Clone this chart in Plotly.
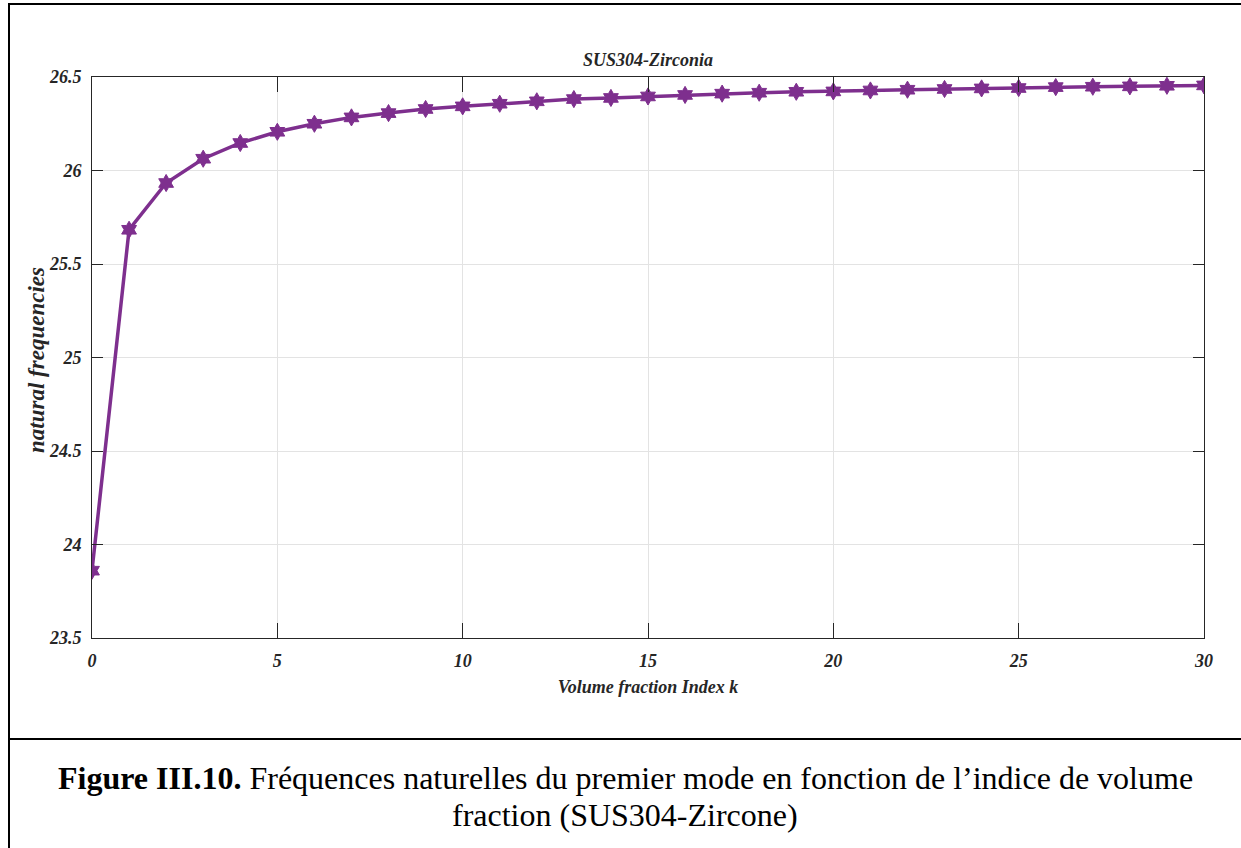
import plotly.graph_objects as go

# ---- data ----
k_index = list(range(0, 31))
natural_freq = [23.86, 25.683, 25.933, 26.063, 26.147, 26.207, 26.25, 26.284, 26.307,
                26.329, 26.343, 26.357, 26.370, 26.382, 26.388, 26.396, 26.404, 26.411,
                26.416, 26.421, 26.423, 26.428, 26.432, 26.436, 26.439, 26.441, 26.446,
                26.448, 26.450, 26.453, 26.455]
x_ticks = [0, 5, 10, 15, 20, 25, 30]
x_ticktext = ["0", "5", "10", "15", "20", "25", "30"]
y_ticks = [23.5, 24, 24.5, 25, 25.5, 26, 26.5]
y_ticktext = ["23.5", "24", "24.5", "25", "25.5", "26", "26.5"]

W, H = 1241, 848
L, R, T, B = 92, 1204, 77, 638  # plot area in pixels


def px(xp):
    return (xp - L) / (R - L)


def py(yp):
    return (B - yp) / (B - T)


SERIF = "Liberation Serif"
PURPLE = "#7E2F8E"
AX = "#262626"

fig = go.Figure()
fig.add_trace(go.Scatter(
    x=k_index, y=natural_freq, mode="lines+markers",
    line=dict(color=PURPLE, width=3.5),
    marker=dict(symbol="hexagram", size=13, color=PURPLE,
                line=dict(color=PURPLE, width=1)),
    showlegend=False,
))

axis_common = dict(
    showline=True, linecolor=AX, linewidth=1, mirror="allticks",
    ticks="inside", tickcolor=AX, showgrid=True, gridcolor="#e3e3e3",
    gridwidth=1, zeroline=False,
)

fig.update_xaxes(
    range=[0, 30], tickmode="array", tickvals=x_ticks,
    ticktext=["<b><i>" + t + "</i></b>" for t in x_ticktext], ticklen=15,
    ticklabelstandoff=6,
    tickfont=dict(family=SERIF, size=18, color=AX),
    title=dict(text="<b><i>Volume fraction Index k</i></b>",
               font=dict(family=SERIF, size=18, color=AX), standoff=10),
    **axis_common,
)
fig.update_yaxes(
    range=[23.5, 26.5], tickmode="array", tickvals=y_ticks,
    ticktext=["<b><i>" + t + "</i></b>" for t in y_ticktext], ticklen=11,
    ticklabelstandoff=6,
    tickfont=dict(family=SERIF, size=18, color=AX),
    **axis_common,
)

fig.update_layout(
    width=W, height=H,
    margin=dict(l=L, r=W - R, t=T, b=H - B, pad=0),
    paper_bgcolor="white", plot_bgcolor="white",
    title=dict(text="<b><i>SUS304-Zirconia</i></b>", x=px(648), xref="paper",
               xanchor="center", y=1 - 60 / H, yref="container", yanchor="middle",
               font=dict(family=SERIF, size=18, color=AX)),
)

# y-axis label
fig.add_annotation(
    text="<b><i>natural frequencies</i></b>", textangle=-90,
    xref="paper", yref="paper", x=px(37), y=py(360), xanchor="center", yanchor="middle",
    showarrow=False, font=dict(family=SERIF, size=23, color=AX))

# page frame lines
frame = dict(color="black", width=2)
fig.add_shape(type="line", xref="paper", yref="paper",
              x0=px(9), x1=px(9), y0=py(3), y1=py(850), line=frame)
fig.add_shape(type="line", xref="paper", yref="paper",
              x0=px(8), x1=px(1245), y0=py(4), y1=py(4), line=frame)
fig.add_shape(type="line", xref="paper", yref="paper",
              x0=px(8), x1=px(1245), y0=py(739), y1=py(739), line=frame)

# caption
fig.add_annotation(
    text="<b>Figure III.10.</b> Fréquences naturelles du premier mode en fonction de l’indice de volume",
    xref="paper", yref="paper", x=px(625), y=py(778), xanchor="center", yanchor="middle",
    showarrow=False, font=dict(family=SERIF, size=32, color="black"))
fig.add_annotation(
    text="fraction (SUS304-Zircone)",
    xref="paper", yref="paper", x=px(625), y=py(815), xanchor="center", yanchor="middle",
    showarrow=False, font=dict(family=SERIF, size=32, color="black"))

fig.write_html("out.html")
